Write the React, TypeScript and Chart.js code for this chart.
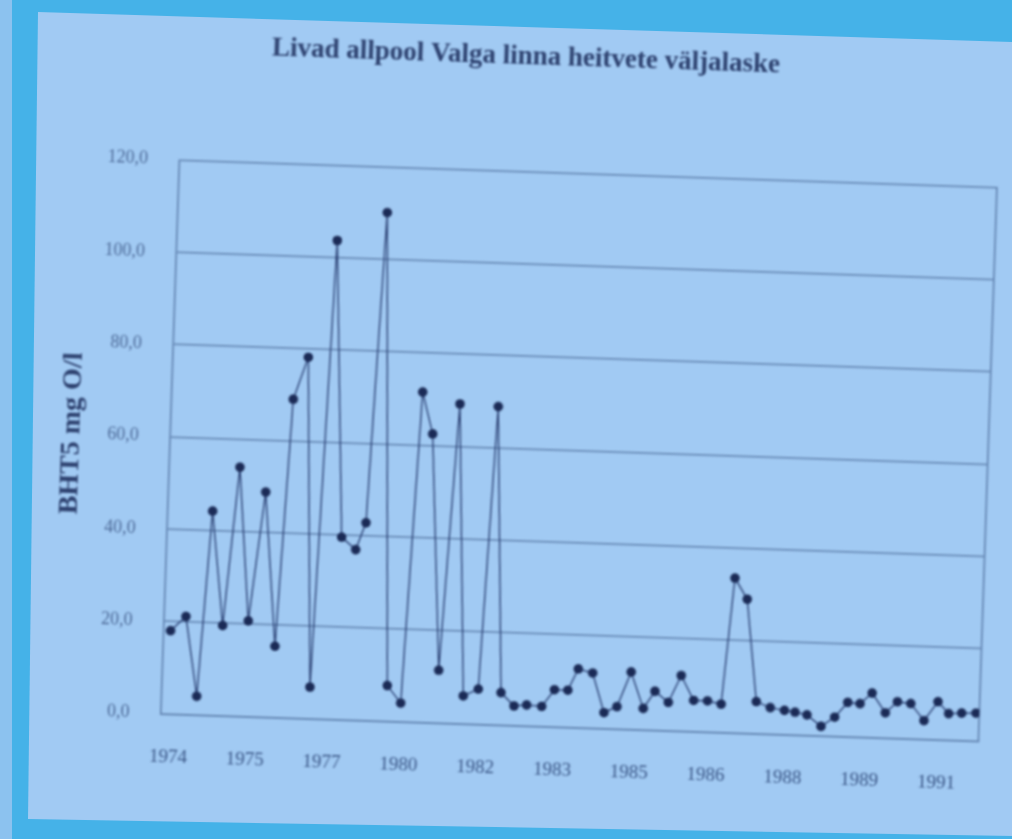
import React, { useEffect, useRef } from "react";
import { Chart, registerables } from "chart.js";

Chart.register(...registerables);

const chartTitle = "Livad allpool Valga linna heitvete väljalaske";
const yAxisTitle = "BHT5 mg O/l";
const yearLabels = ["1974", "1975", "1977", "1980", "1982", "1983", "1985", "1986", "1988", "1989", "1991"];
const yTickValues = [0, 20, 40, 60, 80, 100, 120];
const yTickLabels = ["0,0", "20,0", "40,0", "60,0", "80,0", "100,0", "120,0"];

// sample positions along the time axis (1 unit = distance between two year labels)
const samplePositions = [
  -0.02, 0.174, 0.348, 0.475, 0.655, 0.811, 0.986, 1.157, 1.344, 1.475,
  1.652, 1.817, 1.978, 2.164, 2.352, 2.474, 2.616, 2.822, 3.004, 3.155,
  3.303, 3.484, 3.645, 3.815, 4.007, 4.144, 4.304, 4.479, 4.643, 4.839,
  4.998, 5.172, 5.299, 5.488, 5.652, 5.818, 5.988, 6.161, 6.306, 6.484,
  6.641, 6.813, 6.993, 7.172, 7.297, 7.466, 7.628, 7.812, 7.998, 8.136,
  8.293, 8.48, 8.654, 8.818, 8.978, 9.131, 9.311, 9.464, 9.638, 9.817,
  9.991, 10.135, 10.304, 10.49,
];

// BHT5 values (mg O/l)
const bodValues = [
  18.0, 21.2, 4.0, 44.2, 19.5, 53.9, 20.7, 48.7, 15.4, 69.0,
  78.2, 6.8, 103.7, 39.5, 36.9, 42.8, 110.1, 7.7, 4.0, 71.5,
  62.5, 11.4, 69.2, 6.0, 7.6, 68.9, 7.0, 4.2, 4.5, 4.3,
  8.0, 8.0, 12.7, 11.9, 3.4, 4.8, 12.4, 4.6, 8.4, 6.1,
  12.0, 6.7, 6.7, 6.1, 33.5, 29.0, 6.9, 5.7, 5.2, 4.9,
  4.4, 2.0, 4.1, 7.4, 7.2, 9.6, 5.4, 7.9, 7.6, 4.0,
  8.2, 5.7, 5.9, 6.0,
];

const xMin = -0.109;
const xMax = 10.535;

const gridColor = "#5f80ad";
const yTickColor = "#4d6a98";
const xTickColor = "#3a5686";
const titleColor = "#2d416f";
const lineColor = "#2c4275";
const pointColor = "#1a2a56";

export default function App() {
  const canvasRef = useRef<HTMLCanvasElement | null>(null);

  useEffect(() => {
    const canvas = canvasRef.current;
    if (!canvas) return;
    const points = samplePositions.map((x, i) => ({ x, y: bodValues[i] }));
    const chart = new Chart(canvas, {
      type: "line",
      data: {
        datasets: [
          {
            data: points,
            borderColor: lineColor,
            borderWidth: 1.4,
            pointRadius: 4.8,
            pointBackgroundColor: pointColor,
            pointBorderColor: pointColor,
            pointBorderWidth: 0,
            tension: 0,
            fill: false,
          },
        ],
      },
      options: {
        responsive: false,
        animation: false,
        devicePixelRatio: 1,
        layout: { padding: { left: 37.6, right: 24, top: 0, bottom: 0 } },
        plugins: {
          legend: { display: false },
          tooltip: { enabled: false },
          title: {
            display: true,
            text: chartTitle,
            color: titleColor,
            font: { family: "Liberation Serif", size: 27, weight: "bold", lineHeight: 1.2 },
            padding: { top: 42.8, bottom: 98.3 },
          },
        },
        scales: {
          x: {
            type: "linear",
            min: xMin,
            max: xMax,
            afterBuildTicks: (axis: any) => {
              axis.ticks = yearLabels.map((_, i) => ({ value: i }));
            },
            afterFit: (s: any) => {
              s.height = 111.6;
            },
            ticks: {
              callback: (_v: any, i: number) => yearLabels[i],
              color: xTickColor,
              font: { family: "Liberation Serif", size: 19, lineHeight: 1.2 },
              padding: 32.2,
              maxRotation: 0,
              autoSkip: false,
            },
            grid: { display: false, drawTicks: false },
            border: { display: true, color: gridColor, width: 1.6 },
          },
          y: {
            min: 0,
            max: 120,
            afterBuildTicks: (axis: any) => {
              axis.ticks = yTickValues.map((v) => ({ value: v }));
            },
            afterFit: (s: any) => {
              s.width = 132.4;
            },
            ticks: {
              callback: (_v: any, i: number) => yTickLabels[i],
              color: yTickColor,
              font: { family: "Liberation Serif", size: 18, lineHeight: 1.2 },
              padding: 31.5,
            },
            grid: { color: gridColor, lineWidth: 1.6, drawTicks: false },
            border: { display: true, color: gridColor, width: 1.6 },
            title: {
              display: true,
              text: yAxisTitle,
              color: titleColor,
              font: { family: "Liberation Serif", size: 28, weight: "bold", lineHeight: 1.2 },
              padding: { top: 17.6, bottom: 0 },
            },
          },
          y2: {
            position: "right",
            min: 0,
            max: 120,
            afterFit: (s: any) => {
              s.width = 0;
            },
            ticks: { display: false },
            grid: { display: false, drawTicks: false },
            border: { display: true, color: gridColor, width: 1.6 },
          },
        },
      },
    } as any);
    return () => chart.destroy();
  }, []);

  return (
    <div
      style={{
        position: "fixed",
        left: 0,
        top: 0,
        width: 1012,
        height: 839,
        overflow: "hidden",
        background: "#45b2e8",
      }}
    >
      <div style={{ position: "absolute", left: 0, top: 0, width: 12, height: 839, background: "#8cc2ef" }} />
      <div
        style={{
          position: "absolute",
          left: 0,
          top: 0,
          width: 1012,
          height: 839,
          background: "#a1caf3",
          clipPath: "polygon(38px 12px, 1012px 42px, 1012px 836px, 28px 819px)",
        }}
      />
      <div
        style={{
          position: "absolute",
          left: 0,
          top: 0,
          width: 1012,
          height: 839,
          transform: "rotate(1.92deg)",
          transformOrigin: "579.3px 450.8px",
          filter: "blur(1px)",
        }}
      >
        <canvas ref={canvasRef} width={1012} height={839} style={{ display: "block" }} />
      </div>
    </div>
  );
}
